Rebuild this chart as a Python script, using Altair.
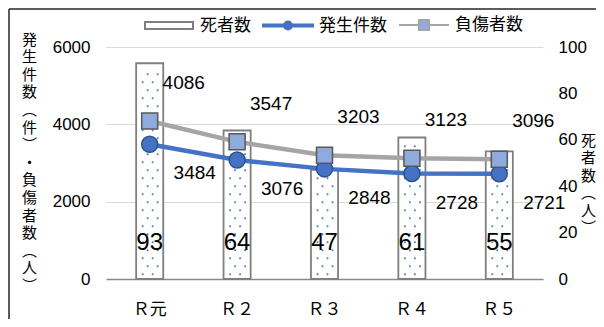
import altair as alt
import pandas as pd

cats = ["Ｒ元", "Ｒ２", "Ｒ３", "Ｒ４", "Ｒ５"]
deaths = [93, 64, 47, 61, 55]
accidents = [3484, 3076, 2848, 2728, 2721]
injured = [4086, 3547, 3203, 3123, 3096]
series = ["死者数", "発生件数", "負傷者数"]
left_title = ["発", "生", "件", "数", "︵", "件", "︶", "・", "負", "傷", "者", "数", "︵", "人", "︶"]
right_title = ["死", "者", "数", "︵", "人", "︶"]

df = pd.DataFrame({"cat": cats, "deaths": deaths, "accidents": accidents, "injured": injured})

JP = "Noto Sans CJK JP"
LAT = "Liberation Sans"

base = alt.Chart(df)

xscale = alt.Scale(domain=cats, paddingInner=0.69, paddingOuter=0.345)
x_ax = alt.Axis(title=None, labelAngle=0, labelFont=JP, labelFontSize=17,
                labelColor="black", labelPadding=22, domain=True,
                domainColor="#898989", domainWidth=1.5, ticks=False, grid=False)
x_enc = alt.X("cat:N", sort=cats, scale=xscale, axis=x_ax)

# ---- deaths (right axis) ----
bar_scale = alt.Scale(domain=[0, 100], nice=False, zero=True)
bar_ax = alt.Axis(orient="right", values=[0, 20, 40, 60, 80, 100], grid=False,
                  domain=False, ticks=False, labelFont=LAT, labelFontSize=17,
                  labelColor="black", labelPadding=15, format="d",
                  title=right_title, titleAngle=0, titleX=45, titleY=86,
                  titleAlign="center", titleBaseline="top", titleFont=JP,
                  titleFontSize=15, titleFontWeight="normal", titleLineHeight=17.5,
                  titleColor="black")


def ybar(field):
    return alt.Y(field, scale=bar_scale, axis=bar_ax)


bars = base.mark_bar(fill="white", stroke="#7F7F7F", strokeWidth=1.8).encode(
    x=x_enc, y=ybar("deaths:Q"))

# light dotted texture inside the bars, derived from each bar's value
dots = base.transform_calculate(
    lv="sequence(2, datum.deaths - 1.5, 3.45)"
).transform_flatten(["lv"]).transform_calculate(
    row="floor(datum.lv / 3.45) % 2"
)


def dot_path(c1, c2):
    r = 0.1
    out = ""
    for c in (c1, c2):
        out += f"M{c + r},0A{r},{r},0,1,1,{c - r},0A{r},{r},0,1,1,{c + r},0Z"
    return out


def dot_layer(row, c1, c2):
    return dots.transform_filter(f"datum.row == {row}").mark_point(
        shape=dot_path(c1, c2), size=400, filled=True, fill="#4472C4",
        strokeWidth=0, opacity=0.9
    ).encode(x=x_enc, y=ybar("lv:Q"))


bar_labels = base.transform_calculate(zero="0").mark_text(
    font=LAT, fontSize=24, baseline="middle", dy=-36, color="black"
).encode(x=x_enc, y=ybar("zero:Q"), text=alt.Text("deaths:Q", format="d"))

bar_group = alt.layer(bars, dot_layer(0, -0.7, 0.3), dot_layer(1, -0.2, 0.8), bar_labels)

# ---- accidents / injured (left axis) ----
line_scale = alt.Scale(domain=[0, 6000], nice=False, zero=True)
line_ax = alt.Axis(orient="left", values=[0, 2000, 4000, 6000], grid=True,
                   gridColor="#D9D9D9", gridWidth=1, domain=False, ticks=False,
                   labelFont=LAT, labelFontSize=17, labelColor="black", labelPadding=16,
                   format="d",
                   title=left_title, titleAngle=0, titleX=-77, titleY=-15,
                   titleAlign="center", titleBaseline="top", titleFont=JP,
                   titleFontSize=15, titleFontWeight="normal", titleLineHeight=17.6,
                   titleColor="black")


def yline(field):
    return alt.Y(field, scale=line_scale, axis=line_ax)


line_acc = base.mark_line(color="#4472C4", strokeWidth=4.5).encode(x=x_enc, y=yline("accidents:Q"))
line_inj = base.mark_line(color="#A5A5A5", strokeWidth=4.5).encode(x=x_enc, y=yline("injured:Q"))
pts_acc = base.mark_point(shape="circle", filled=True, size=256, fill="#4472C4",
                          stroke="#2F528F", strokeWidth=1.5, opacity=1).encode(
    x=x_enc, y=yline("accidents:Q"))
pts_inj = base.mark_point(shape="square", filled=True, size=256, fill="#8FAADC",
                          stroke="#595959", strokeWidth=1.5, opacity=1).encode(
    x=x_enc, y=yline("injured:Q"))
lab_acc = base.mark_text(font=LAT, fontSize=19, dx=45, dy=29, color="black",
                         baseline="middle").encode(
    x=x_enc, y=yline("accidents:Q"), text=alt.Text("accidents:Q", format="d"))
lab_inj = base.mark_text(font=LAT, fontSize=19, dx=34, dy=-38, color="black",
                         baseline="middle").encode(
    x=x_enc, y=yline("injured:Q"), text=alt.Text("injured:Q", format="d"))

# legend carrier (draws nothing itself)
paths = [
    "M-0.96,-0.14H0.96V0.14H-0.96Z",
    "M-1,-0.04H1V0.04H-1Z M0.16,0A0.16,0.16,0,1,1,-0.16,0A0.16,0.16,0,1,1,0.16,0Z",
    "M-1,0H-0.22M0.22,0H1M-0.2,-0.2H0.2V0.2H-0.2Z",
]
leg = alt.Legend(title=None, orient="none", legendX=37, legendY=-48, direction="horizontal",
                 symbolSize=2500, symbolStrokeWidth=2, labelFont=JP, labelFontSize=17,
                 labelColor="black", labelOffset=5, columnPadding=8, padding=0)
legend_layer = alt.Chart(pd.DataFrame({"s": series})).transform_filter("false").mark_point(
    filled=True, opacity=1
).encode(
    shape=alt.Shape("s:N", scale=alt.Scale(domain=series, range=paths), legend=leg),
    fill=alt.Fill("s:N", scale=alt.Scale(domain=series, range=["white", "#4472C4", "#8FAADC"]), legend=leg),
    stroke=alt.Stroke("s:N", scale=alt.Scale(domain=series, range=["#7F7F7F", "#4472C4", "#A5A5A5"]), legend=leg),
)

line_group = alt.layer(line_acc, line_inj, pts_acc, pts_inj, lab_acc, lab_inj, legend_layer)

# outer frame (left and top edges)
frame_df = pd.DataFrame({"a": [0]})
frame_left = alt.Chart(frame_df).mark_rule(color="#262626", strokeWidth=1.5).encode(
    x=alt.value(-97), y=alt.value(-38), y2=alt.value(272))
frame_top = alt.Chart(frame_df).mark_rule(color="#262626", strokeWidth=1.5).encode(
    x=alt.value(-97), x2=alt.value(490), y=alt.value(-38))

chart = alt.layer(bar_group, line_group, frame_left, frame_top).resolve_scale(
    y="independent"
).properties(
    width=437, height=232,
    padding={"left": 98, "top": 39, "right": 53, "bottom": 40},
    autosize=alt.AutoSizeParams(type="none"),
).configure_view(stroke=None)

chart.save("out.html", embed_options={"renderer": "svg", "actions": False})
